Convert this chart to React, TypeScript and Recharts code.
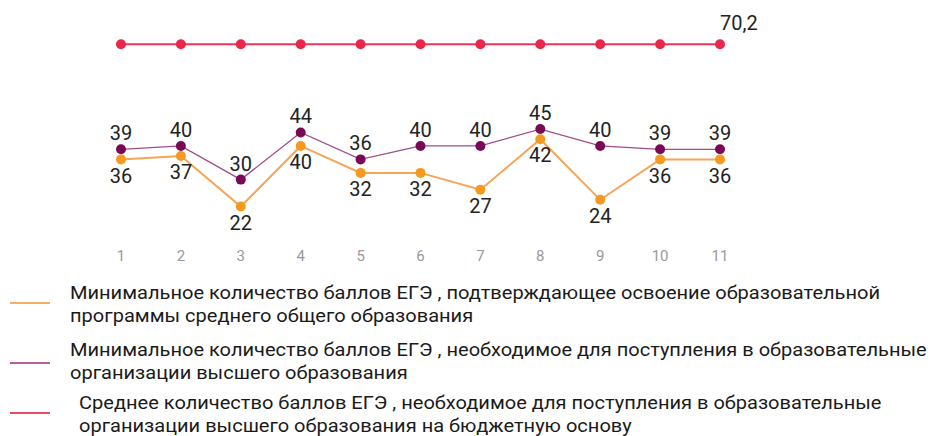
import { LineChart, Line, XAxis, YAxis, LabelList } from 'recharts'

const classes = ['1', '2', '3', '4', '5', '6', '7', '8', '9', '10', '11']
const minPass = [36, 37, 22, 40, 32, 32, 27, 42, 24, 36, 36]
const minAdmit = [39, 40, 30, 44, 36, 40, 40, 45, 40, 39, 39]
const avgBudget = [70.2, 70.2, 70.2, 70.2, 70.2, 70.2, 70.2, 70.2, 70.2, 70.2, 70.2]

const legendItems = [
  {
    color: '#f9ae66',
    lines: [
      'Минимальное количество баллов ЕГЭ , подтверждающее освоение образовательной',
      'программы среднего общего образования',
    ],
  },
  {
    color: '#b2609f',
    lines: [
      'Минимальное количество баллов ЕГЭ , необходимое для поступления в образовательные',
      'организации высшего образования',
    ],
  },
  {
    color: '#ee4a66',
    lines: [
      ' Среднее количество баллов ЕГЭ , необходимое для поступления в образовательные',
      ' организации высшего образования на бюджетную основу',
    ],
  },
]

const data = classes.map((c, i) => ({
  x: c,
  pass: minPass[i],
  admit: minAdmit[i],
  avg: avgBudget[i],
}))

const LastLabel = (props: any) => {
  const { x, y, value, index } = props
  if (index !== classes.length - 1) return null
  return (
    <text x={x} y={y - 14} fill="#222" fontSize={20} textAnchor="start">
      {String(value).replace('.', ',')}
    </text>
  )
}

const rowTops = [274, 331, 384]
const swatchTops = [294, 354, 404]
const textLefts = [62, 62, 66]

export default function App() {
  return (
    <div style={{ position: 'relative', width: 922, height: 428, fontFamily: 'Roboto, sans-serif' }}>
      <LineChart
        width={922}
        height={270}
        data={data}
        margin={{ top: 20, right: 210, left: 113, bottom: 0 }}
      >
        <XAxis
          dataKey="x"
          axisLine={false}
          tickLine={false}
          tickSize={1}
          tickMargin={2}
          height={31}
          tick={{ fill: '#999', fontSize: 15 }}
          interval={0}
        />
        <YAxis hide domain={[10, 75]} />
        <Line
          dataKey="avg"
          stroke="#ec3756"
          strokeWidth={2}
          dot={{ r: 5, fill: '#e8274b', stroke: '#e8274b', strokeWidth: 0 }}
          isAnimationActive={false}
        >
          <LabelList dataKey="avg" content={LastLabel} />
        </Line>
        <Line
          dataKey="admit"
          stroke="#a04c8a"
          strokeWidth={1.3}
          dot={{ r: 5, fill: '#780a55', stroke: '#780a55', strokeWidth: 0 }}
          isAnimationActive={false}
        >
          <LabelList dataKey="admit" position="top" offset={9} fill="#222" fontSize={20} />
        </Line>
        <Line
          dataKey="pass"
          stroke="#f8a456"
          strokeWidth={2}
          dot={{ r: 5, fill: '#f5991f', stroke: '#f5991f', strokeWidth: 0 }}
          isAnimationActive={false}
        >
          <LabelList dataKey="pass" position="bottom" offset={9} fill="#222" fontSize={20} />
        </Line>
      </LineChart>
      {legendItems.map((item, i) => (
        <div key={i}>
          <div
            style={{
              position: 'absolute',
              left: 2,
              top: swatchTops[i],
              width: 40,
              height: 2,
              background: item.color,
            }}
          />
          <div
            style={{
              position: 'absolute',
              left: textLefts[i],
              top: rowTops[i],
              fontSize: 17.5,
              lineHeight: '22.5px',
              color: '#1a1a1a',
              whiteSpace: 'pre',
              transform: 'scaleX(1.145)',
              transformOrigin: 'left top',
            }}
          >
            {item.lines.map((l, j) => (
              <div key={j}>{l}</div>
            ))}
          </div>
        </div>
      ))}
    </div>
  )
}
